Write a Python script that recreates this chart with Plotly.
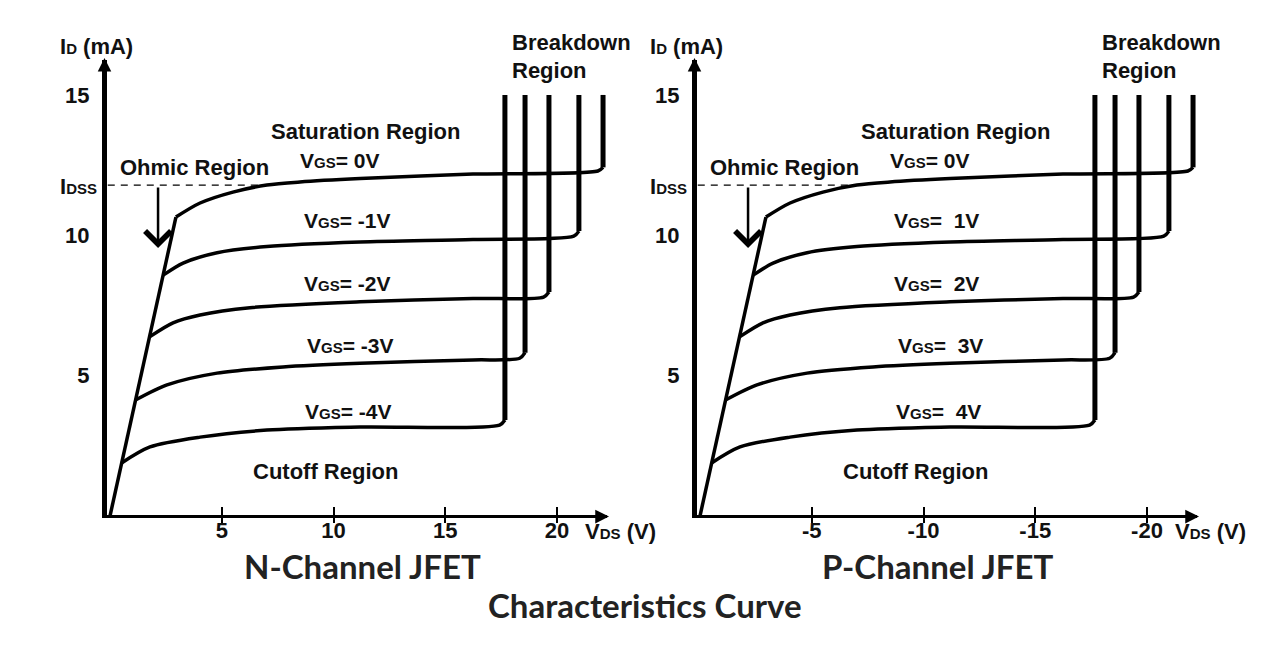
import plotly.graph_objects as go

# ------------------------------------------------------------------ data
# N-channel JFET: drain current (mA) vs drain-source voltage (V), one list per V_GS curve
N_VGS_LABELS = ["0V", "-1V", "-2V", "-3V", "-4V"]
N_VDS = [
    [2.95, 4.03, 5.50, 7.02, 8.50, 11.19, 16.24, 21.83, 22.06],
    [2.38, 3.27, 4.79, 7.02, 11.19, 16.24, 20.75, 20.98],
    [1.77, 2.82, 4.03, 6.26, 11.19, 16.24, 19.40, 19.64],
    [1.14, 2.55, 4.79, 7.74, 11.19, 16.24, 18.33, 18.57],
    [0.52, 1.79, 4.03, 7.02, 11.19, 17.43, 17.67],
]
N_ID = [
    [10.65, 11.15, 11.54, 11.79, 11.90, 12.02, 12.18, 12.29, 12.42],
    [8.58, 9.01, 9.38, 9.60, 9.76, 9.85, 9.97, 10.15],
    [6.38, 6.88, 7.16, 7.42, 7.63, 7.75, 7.80, 7.98],
    [4.13, 4.67, 5.09, 5.31, 5.44, 5.56, 5.62, 5.82],
    [1.89, 2.46, 2.81, 3.06, 3.17, 3.24, 3.42],
]
N_BREAKDOWN_VDS = [22.06, 20.98, 19.64, 18.57, 17.67]

# P-channel JFET (V_DS negative)
P_VGS_LABELS = ["0V", " 1V", " 2V", " 3V", " 4V"]
P_VDS = [
    [-2.95, -4.03, -5.50, -7.02, -8.50, -11.19, -16.24, -21.83, -22.06],
    [-2.38, -3.27, -4.79, -7.02, -11.19, -16.24, -20.75, -20.98],
    [-1.77, -2.82, -4.03, -6.26, -11.19, -16.24, -19.40, -19.64],
    [-1.14, -2.55, -4.79, -7.74, -11.19, -16.24, -18.33, -18.57],
    [-0.52, -1.79, -4.03, -7.02, -11.19, -17.43, -17.67],
]
P_ID = [
    [10.65, 11.15, 11.54, 11.79, 11.90, 12.02, 12.18, 12.29, 12.42],
    [8.58, 9.01, 9.38, 9.60, 9.76, 9.85, 9.97, 10.15],
    [6.38, 6.88, 7.16, 7.42, 7.63, 7.75, 7.80, 7.98],
    [4.13, 4.67, 5.09, 5.31, 5.44, 5.56, 5.62, 5.82],
    [1.89, 2.46, 2.81, 3.06, 3.17, 3.24, 3.42],
]
P_BREAKDOWN_VDS = [-22.06, -20.98, -19.64, -18.57, -17.67]

BREAKDOWN_TOP_ID = 15.0
N_OHMIC_VDS = [0.0, 2.95]
P_OHMIC_VDS = [0.0, -2.95]
OHMIC_ID = [0.0, 10.65]
IDSS = 11.79
N_IDSS_VDS = [-0.10, 7.02]
P_IDSS_VDS = [0.10, -7.02]

N_XTICKS = [5, 10, 15, 20]
N_XTICK_TEXT = ["5", "10", "15", "20"]
P_XTICKS = [-5, -10, -15, -20]
P_XTICK_TEXT = ["-5", "-10", "-15", "-20"]
Y_TICKS = [5, 10, 15]
Y_TICK_TEXT = ["5", "10", "15"]

# label anchor points in data units (|V_DS|, I_D)
VGS_LABEL_POS = [(10.29, 12.68), (10.6, 10.51), (10.6, 8.30), (10.75, 6.06), (10.65, 3.74)]

# ------------------------------------------------------------------ geometry
W, H = 1280, 646
PX_PER_V = 22.35
PX_PER_MA = 28.07
FONT = "Liberation Sans, Arial, sans-serif"
TFONT = "Lato, Open Sans, sans-serif"
INK = "#111111"

def px(x):
    return x / W

def py(y):
    return (H - y) / H

panels = [
    dict(origin=110, left=107, right=607, sign=1),
    dict(origin=700, left=697, right=1197, sign=-1),
]
BOTTOM, TOP = 515, 60

fig = go.Figure()

series = [
    ("x", "y", N_VDS, N_ID, N_BREAKDOWN_VDS, N_OHMIC_VDS, N_IDSS_VDS),
    ("x2", "y2", P_VDS, P_ID, P_BREAKDOWN_VDS, P_OHMIC_VDS, P_IDSS_VDS),
]
for xa, ya, vds, ids, bds, ohm, idss_v in series:
    # ohmic line
    fig.add_trace(go.Scatter(x=ohm, y=OHMIC_ID, mode="lines", xaxis=xa, yaxis=ya,
                             line=dict(color="black", width=3.5), hoverinfo="skip", showlegend=False,
                             cliponaxis=False))
    for v, i, bd in zip(vds, ids, bds):
        fig.add_trace(go.Scatter(x=v, y=i, mode="lines", xaxis=xa, yaxis=ya,
                                 line=dict(color="black", width=3.5, shape="spline", smoothing=0.8),
                                 hoverinfo="skip", showlegend=False))
        fig.add_trace(go.Scatter(x=[bd, bd], y=[i[-1], BREAKDOWN_TOP_ID], mode="lines", xaxis=xa, yaxis=ya,
                                 line=dict(color="black", width=5), hoverinfo="skip", showlegend=False))
    fig.add_trace(go.Scatter(x=idss_v, y=[IDSS, IDSS], mode="lines", xaxis=xa, yaxis=ya,
                             line=dict(color="black", width=1.2, dash="7px,6px"),
                             hoverinfo="skip", showlegend=False))

# empty traces so overlay tick axes are drawn
fig.add_trace(go.Scatter(x=[], y=[], xaxis="x3", yaxis="y", showlegend=False))
fig.add_trace(go.Scatter(x=[], y=[], xaxis="x4", yaxis="y2", showlegend=False))

ydom = [py(BOTTOM), py(TOP)]
yrng = [(516 - BOTTOM) / PX_PER_MA, (516 - TOP) / PX_PER_MA]
tickfont = dict(family=FONT, size=22, color=INK, weight="bold")

layout = dict(width=W, height=H, margin=dict(l=0, r=0, t=0, b=0),
              paper_bgcolor="white", plot_bgcolor="white", showlegend=False)

for k, (p, ticks, ttext) in enumerate(zip(panels, [N_XTICKS, P_XTICKS], [N_XTICK_TEXT, P_XTICK_TEXT])):
    s = p["sign"]
    xr = [s * (p["left"] - p["origin"]) / PX_PER_V, s * (p["right"] - p["origin"]) / PX_PER_V]
    xdom = [px(p["left"]), px(p["right"])]
    xn = "xaxis" if k == 0 else "xaxis2"
    yn = "yaxis" if k == 0 else "yaxis2"
    yid = "y" if k == 0 else "y2"
    xid = "x" if k == 0 else "x2"
    layout[xn] = dict(domain=xdom, range=xr, anchor=yid, showline=True, linewidth=3, linecolor="black",
                      showgrid=False, zeroline=False, tickvals=ticks, ticktext=ttext, ticks="inside",
                      ticklen=8, tickwidth=1.5, tickcolor="black", tickfont=tickfont, fixedrange=True,
                      ticklabelstandoff=-6)
    layout[yn] = dict(domain=ydom, range=yrng, anchor=xid, showline=True, linewidth=5, linecolor="black",
                      showgrid=False, zeroline=False, tickvals=Y_TICKS, ticktext=Y_TICK_TEXT, ticks="",
                      ticklabelstandoff=8, tickfont=tickfont, fixedrange=True)
    on = "xaxis3" if k == 0 else "xaxis4"
    layout[on] = dict(domain=xdom, range=xr, anchor=yid, overlaying=xid, showline=False, showgrid=False,
                      zeroline=False, tickvals=ticks, ticks="outside", ticklen=7, tickwidth=1.5,
                      tickcolor="black", showticklabels=False, fixedrange=True)

fig.update_layout(**layout)

ann = []
def text(x, y, t, size=22, xref="paper", yref="paper", xanchor="center", yanchor="middle", family=FONT,
         color=INK, weight="bold"):
    ann.append(dict(x=x, y=y, xref=xref, yref=yref, text=t, showarrow=False, xanchor=xanchor,
                    yanchor=yanchor, font=dict(family=family, size=size, color=color, weight=weight)))

SUB = "<span style='font-size:15px'>{}</span>"
for k, p in enumerate(panels):
    s = p["sign"]
    xr = "x" if k == 0 else "x2"
    yr = "y" if k == 0 else "y2"
    labels = N_VGS_LABELS if k == 0 else P_VGS_LABELS
    dx = p["origin"] - 110
    # arrows on axes
    ann.append(dict(x=px(p["right"] + 2), y=py(BOTTOM + 1.5), xref="paper", yref="paper", ax=-16, ay=0,
                    showarrow=True, arrowhead=2, arrowsize=1.1, arrowwidth=2.5, arrowcolor="black", text=""))
    ann.append(dict(x=px(p["left"] - 2.5), y=py(TOP - 2), xref="paper", yref="paper", ax=0, ay=14,
                    showarrow=True, arrowhead=2, arrowsize=0.9, arrowwidth=3, arrowcolor="black", text=""))
    # axis titles
    text(px(96 + dx), py(47), "I" + SUB.format("D") + " (mA)")
    text(px(620 + dx), py(531), "V" + SUB.format("DS") + " (V)")
    text(px(99 + dx), py(186), "I" + SUB.format("DSS"), xanchor="right")
    # region labels
    text(s * 3.76, 12.40, "Ohmic Region", xref=xr, yref=yr)
    text(s * 11.41, 13.68, "Saturation Region", xref=xr, yref=yr)
    text(s * 9.62, 1.60, "Cutoff Region", xref=xr, yref=yr)
    text(px(510 + dx), py(43), "Breakdown", xanchor="left")
    text(px(510 + dx), py(70), "Region", xanchor="left")
    for lab, (vx, iy) in zip(labels, VGS_LABEL_POS):
        text(s * vx, iy, "V" + SUB.format("GS") + "= " + lab, size=21, xref=xr, yref=yr)
    # ohmic arrow
    ann.append(dict(x=s * 2.15, y=9.55, xref=xr, yref=yr, ax=0, ay=-62, showarrow=True, arrowhead=4,
                    arrowsize=2.0, arrowwidth=2.5, arrowcolor="black", text=""))

text(px(362), py(566), "N-Channel JFET", size=33, family=TFONT, color="#222222")
text(px(938), py(566), "P-Channel JFET", size=33, family=TFONT, color="#222222")
text(px(645), py(605), "Characteristics Curve", size=33, family=TFONT, color="#222222")

fig.update_layout(annotations=ann)
fig.write_html("out.html", config={"displayModeBar": False},
               post_script="document.body.style.margin='0px';")
